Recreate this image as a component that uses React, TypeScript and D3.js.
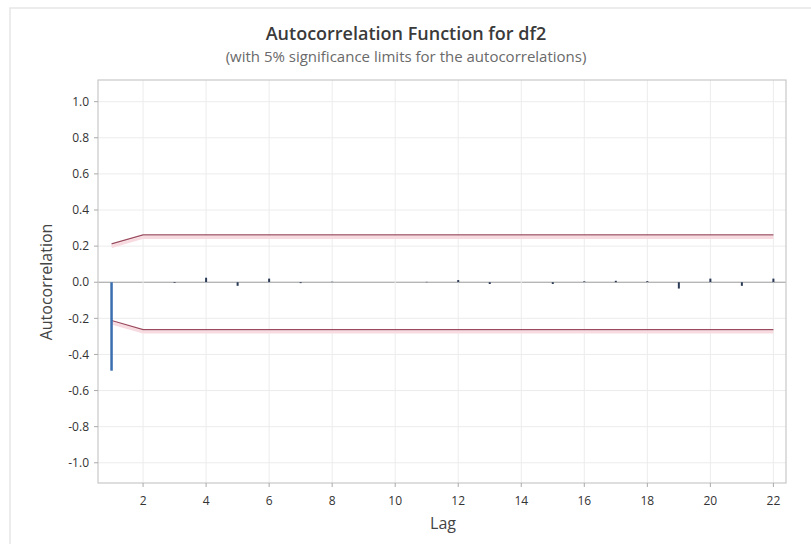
import React from "react";
import * as d3 from "d3";

const lags = [1, 2, 3, 4, 5, 6, 7, 8, 9, 10, 11, 12, 13, 14, 15, 16, 17, 18, 19, 20, 21, 22];
const acf = [-0.49, 0.0, -0.004, 0.025, -0.02, 0.02, -0.005, 0.003, 0.0, 0.0, 0.002, 0.012, -0.01, 0.0, -0.01, 0.005, 0.008, 0.006, -0.035, 0.02, -0.02, 0.02];
const limits = [0.212, 0.262, 0.262, 0.262, 0.262, 0.262, 0.262, 0.262, 0.262, 0.262, 0.262, 0.262, 0.262, 0.262, 0.262, 0.262, 0.262, 0.262, 0.262, 0.262, 0.262, 0.262];
const xTicks = [2, 4, 6, 8, 10, 12, 14, 16, 18, 20, 22];
const yTicks = [-1.0, -0.8, -0.6, -0.4, -0.2, 0.0, 0.2, 0.4, 0.6, 0.8, 1.0];

const W = 811;
const H = 544;
const L = 98, R = 786, T = 80, B = 483;
const FONT = "'Open Sans', 'Noto Sans', sans-serif";

export default function App() {
  const x = d3.scaleLinear().domain([0.57, 22.4]).range([L, R]);
  const y = d3.scaleLinear().domain([-1.112, 1.12]).range([B, T]);
  const upper = d3.line<number>().x((_, i) => x(lags[i])).y((d) => y(d));
  const lower = d3.line<number>().x((_, i) => x(lags[i])).y((d) => y(-d));

  return (
    <svg width={W} height={H} style={{ position: "absolute", left: 0, top: 0, background: "#fff" }}>
      <rect x={10} y={8} width={W} height={H} fill="#fff" stroke="#e6e6e6" strokeWidth={1.5} />
      <text x={406} y={40} textAnchor="middle" fontFamily={FONT} fontSize={18} fontWeight={600} fill="#3a3a3a">
        Autocorrelation Function for df2
      </text>
      <text x={406} y={62} textAnchor="middle" fontFamily={FONT} fontSize={15} fill="#6a6a6a">
        (with 5% significance limits for the autocorrelations)
      </text>
      {/* grid */}
      {yTicks.map((t) => (
        <line key={"gy" + t} x1={L} x2={R} y1={y(t)} y2={y(t)} stroke={t === 0 ? "#9a9a9a" : "#ececec"} strokeWidth={1} />
      ))}
      {xTicks.map((t) => (
        <line key={"gx" + t} x1={x(t)} x2={x(t)} y1={T} y2={B} stroke="#ececec" strokeWidth={1} />
      ))}
      {/* limits */}
      <g transform="translate(0,2.5)">
        <path d={upper(limits) || ""} fill="none" stroke="#f8dbe1" strokeWidth={3} />
        <path d={lower(limits) || ""} fill="none" stroke="#f8dbe1" strokeWidth={3} />
      </g>
      <path d={upper(limits) || ""} fill="none" stroke="#9c4a5e" strokeWidth={1.3} />
      <path d={lower(limits) || ""} fill="none" stroke="#9c4a5e" strokeWidth={1.3} />
      {/* bars */}
      {acf.map((v, i) => (
        <line key={"b" + i} x1={x(lags[i])} x2={x(lags[i])} y1={y(0)} y2={y(v)}
          stroke={i === 0 ? "#3a6eae" : "#2b3a55"} strokeWidth={i === 0 ? 2.5 : 2} />
      ))}
      {/* frame */}
      <rect x={L} y={T} width={R - L} height={B - T} fill="none" stroke="#c8c8c8" strokeWidth={1.2} />
      {/* y ticks */}
      {yTicks.map((t) => (
        <g key={"ty" + t}>
          <line x1={L - 4} x2={L} y1={y(t)} y2={y(t)} stroke="#aaa" />
          <text x={L - 9} y={y(t)} dy="0.35em" textAnchor="end" fontFamily={FONT} fontSize={12} fontWeight={500} fill="#333">
            {t.toFixed(1)}
          </text>
        </g>
      ))}
      {xTicks.map((t) => (
        <g key={"tx" + t}>
          <line x1={x(t)} x2={x(t)} y1={B} y2={B + 4} stroke="#aaa" />
          <text x={x(t)} y={B + 22} textAnchor="middle" fontFamily={FONT} fontSize={12} fontWeight={500} fill="#333">
            {t}
          </text>
        </g>
      ))}
      <text x={443} y={529} textAnchor="middle" fontFamily={FONT} fontSize={16} fill="#444">Lag</text>
      <text transform={`translate(52,282) rotate(-90)`} textAnchor="middle" fontFamily={FONT} fontSize={16} fill="#444">
        Autocorrelation
      </text>
    </svg>
  );
}
